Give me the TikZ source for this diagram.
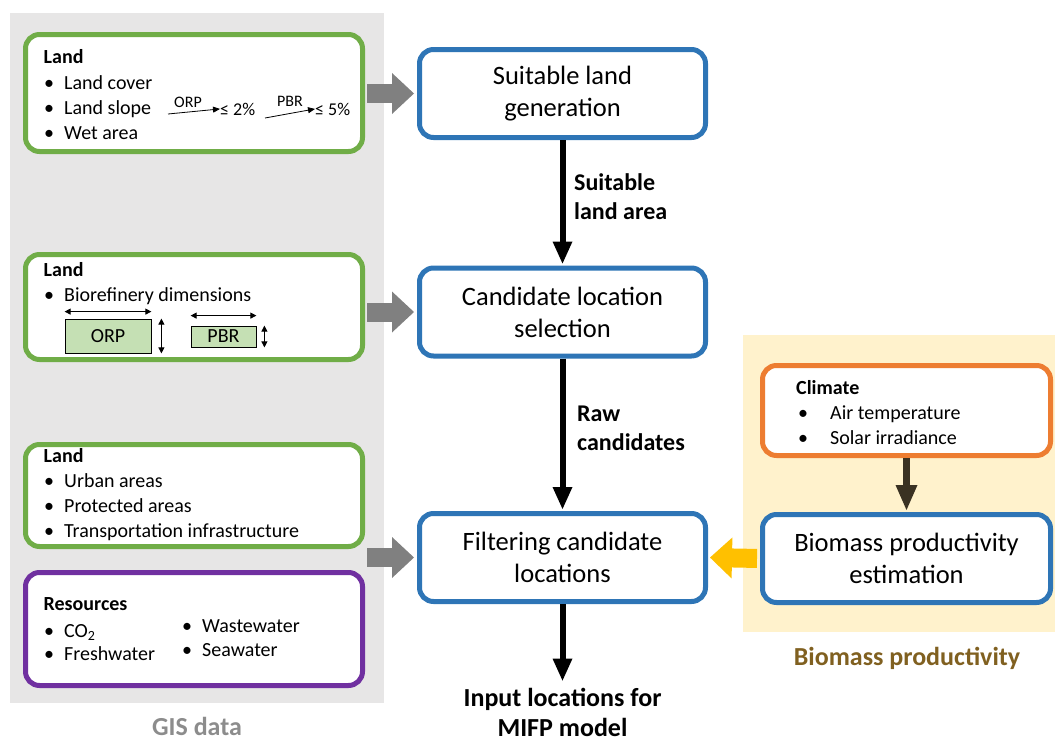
\documentclass[tikz,border=0pt]{standalone}
\usepackage{fontspec}
\setmainfont{Carlito}
\usetikzlibrary{arrows.meta,positioning}

\definecolor{gisgray}{HTML}{E7E6E6}
\definecolor{biotan}{HTML}{FFF2CC}
\definecolor{landgreen}{HTML}{70AD47}
\definecolor{stepblue}{HTML}{2E75B6}
\definecolor{climorange}{HTML}{ED7D31}
\definecolor{respurple}{HTML}{7030A0}
\definecolor{feedyellow}{HTML}{FFC000}
\definecolor{feedgray}{HTML}{808080}
\definecolor{dimgreen}{HTML}{C5E0B4}
\definecolor{labelgray}{HTML}{8C8C8C}
\definecolor{labelbrown}{HTML}{806020}
\definecolor{climarrow}{HTML}{3A3222}

\newcommand{\bulletbox}[1]{\makebox[#1][l]{\textbullet}}

\tikzset{
  infobox/.style={line width=5pt, rounded corners=14pt, fill=white, minimum width=337pt, inner sep=0pt},
  stepbox/.style={draw=stepblue, line width=5pt, rounded corners=14pt, fill=white, minimum width=286pt, minimum height=88pt, align=center, font=\fontsize{26.5}{32}\selectfont},
  head/.style={anchor=base west, inner sep=0pt, font=\fontsize{20}{24}\selectfont\bfseries},
  item/.style={anchor=base west, inner sep=0pt, font=\fontsize{20}{24}\selectfont},
  smalltext/.style={inner sep=0pt, font=\fontsize{16}{19}\selectfont},
  slopearrow/.style={line width=0.8pt, -{Triangle[width=6pt,length=7pt]}},
  dimbox/.style={draw=black, line width=0.8pt, fill=dimgreen, inner sep=0pt, font=\fontsize{20}{24}\selectfont},
  dimline/.style={line width=0.8pt, {Triangle[width=6pt,length=6pt]}-{Triangle[width=6pt,length=6pt]}},
  flow/.style={line width=6pt, -{Triangle[width=20pt,length=22pt,line width=0pt]}},
  feed/.style={line width=19pt, -{Triangle[width=41pt,length=22pt,line width=0pt]}},
  flowlabel/.style={anchor=west, align=left, inner sep=0pt, font=\fontsize{24}{29}\selectfont\bfseries},
  panellabel/.style={font=\fontsize{26}{30}\selectfont\bfseries}
}

\begin{document}
\begin{tikzpicture}[x=1pt, y=-1pt]
  \useasboundingbox (0,0) rectangle (1055,742);

  % panels
  \fill[gisgray] (10,13) rectangle (384,703);
  \fill[biotan] (743,335) rectangle (1055,632);
  \node[panellabel, text=labelgray] (gislabel) at (197,726) {GIS data};
  \node[panellabel, text=labelbrown] (biolabel) at (907,658) {Biomass productivity};

  % GIS data boxes
  \node[infobox, draw=landgreen, minimum height=117pt] (land1) at (194,93) {};
  \node[head] (land1h) at (43.5,63.5) {Land};
  \node[item] (land1a) at (44,89.5) {\bulletbox{20pt}Land cover};
  \node[item] (land1b) at (44,114.5) {\bulletbox{20pt}Land slope};
  \node[item] (land1c) at (44,139.5) {\bulletbox{20pt}Wet area};
  \node[smalltext] (orp1) at (188,102) {ORP};
  \node[item, font=\fontsize{18}{22}\selectfont] (le2) at (220,115) {≤ 2\%};
  \coordinate (orp1start) at (168,114);
  \draw[slopearrow] (orp1start) -- (le2.west);
  \node[smalltext] (pbr1) at (290,101) {PBR};
  \node[item, font=\fontsize{18}{22}\selectfont] (le5) at (315,115) {≤ 5\%};
  \coordinate (pbr1start) at (265,118);
  \draw[slopearrow] (pbr1start) -- (le5.west);

  \node[infobox, draw=landgreen, minimum height=105pt] (land2) at (194,307) {};
  \node[head] (land2h) at (43.5,276.5) {Land};
  \node[item] (land2a) at (44,301.5) {\bulletbox{20pt}Biorefinery dimensions};
  \node[dimbox, minimum width=86pt, minimum height=34pt] (orpbox) at (108,336) {ORP};
  \node[dimbox, minimum width=65pt, minimum height=21pt] (pbrbox) at (223.5,336.5) {PBR};
  \draw[dimline] ([yshift=7pt]orpbox.north west) -- ([yshift=7pt]orpbox.north east);
  \draw[dimline] ([xshift=10pt]orpbox.north east) -- ([xshift=10pt]orpbox.south east);
  \draw[dimline] ([yshift=10pt]pbrbox.north west) -- ([yshift=10pt]pbrbox.north east);
  \draw[dimline] ([xshift=8pt]pbrbox.north east) -- ([xshift=8pt]pbrbox.south east);

  \node[infobox, draw=landgreen, minimum height=102pt] (land3) at (194,495.5) {};
  \node[head] (land3h) at (43.5,462.5) {Land};
  \node[item] (land3a) at (44,487) {\bulletbox{20pt}Urban areas};
  \node[item] (land3b) at (44,512) {\bulletbox{20pt}Protected areas};
  \node[item] (land3c) at (44,537) {\bulletbox{20pt}Transportation infrastructure};

  \node[infobox, draw=respurple, minimum height=113pt] (res) at (194,629) {};
  \node[head] (resh) at (43.5,610.5) {Resources};
  \node[item] (resa) at (44,637) {\bulletbox{20pt}CO\textsubscript{2}};
  \node[item] (resb) at (44,660.5) {\bulletbox{20pt}Freshwater};
  \node[item] (resc) at (182,632) {\bulletbox{20pt}Wastewater};
  \node[item] (resd) at (182,656.5) {\bulletbox{20pt}Seawater};

  % main steps
  \node[stepbox] (gen) at (562.5,93.5) {Suitable land\\generation};
  \node[stepbox] (cand) at (562.5,312) {Candidate location\\selection};
  \node[stepbox] (filt) at (562.5,557.5) {Filtering candidate\\locations};
  \node[font=\fontsize{26}{30}\selectfont\bfseries, align=center, inner sep=1pt] (inputloc) at (562.5,712) {Input locations for\\MIFP model};

  % biomass productivity
  \node[infobox, draw=climorange, minimum width=288pt, minimum height=90pt] (clim) at (906.5,410.5) {};
  \node[head] (climh) at (796,394.5) {Climate};
  \node[item] (clima) at (798,419.5) {\bulletbox{32pt}Air temperature};
  \node[item] (climb) at (798,444.5) {\bulletbox{32pt}Solar irradiance};
  \node[stepbox, minimum width=288pt] (bio) at (906.5,558.5) {Biomass productivity\\estimation};

  % connectors
  \draw[flow, shorten >=2pt] (gen) -- (cand);
  \draw[flow, shorten >=2pt] (cand) -- (filt);
  \draw[flow, shorten >=6pt] (filt) -- (inputloc);
  \node[flowlabel] (flowa) at (574,197) {Suitable\\land area};
  \node[flowlabel] (flowb) at (577,428.5) {Raw\\candidates};

  \draw[feed, feedgray, shorten <=2pt, shorten >=3pt] (land1.east |- gen.west) -- (gen.west);
  \draw[feed, feedgray, shorten <=2pt, shorten >=3pt] (land2.east |- cand.west) -- (cand.west);
  \draw[feed, feedgray, shorten <=2pt, shorten >=3pt] (land3.east |- filt.west) -- (filt.west);
  \draw[feed, feedyellow, shorten <=3pt, shorten >=2pt] (bio.west) -- (filt.east);
  \draw[line width=7pt, climarrow, -{Triangle[width=22pt,length=25pt,line width=0pt]}, shorten >=2pt] (clim) -- (bio);
\end{tikzpicture}
\end{document}
